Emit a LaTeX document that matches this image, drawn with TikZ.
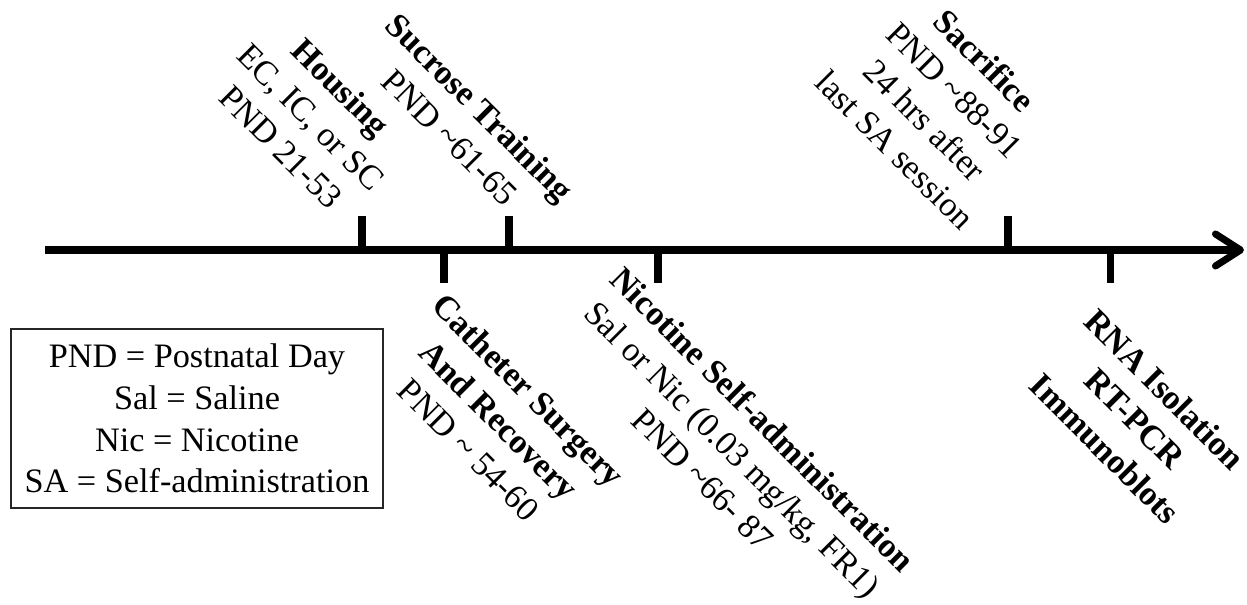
\documentclass[tikz,border=0pt]{standalone}
\usepackage{fontspec}
\setmainfont{Liberation Serif}
\usepackage{tikz}
\tikzset{>=latex}
\usetikzlibrary{arrows.meta,positioning}
\tikzset{
  eventtext/.style={rotate=-45, align=center, inner sep=0pt, font=\fontsize{19.5}{24}\selectfont},
  legendbox/.style={draw=black!85, line width=0.8pt, align=center, minimum width=7.44cm, minimum height=3.58cm, font=\fontsize{19.5}{23.8}\selectfont},
  timeline/.style={line width=4pt, -{Straight Barb[length=0.5cm, width=0.64cm, line cap=round, line join=round]}},
  tick/.style={line width=4pt}
}

\begin{document}
\begin{tikzpicture}
                    \useasboundingbox (0,0) rectangle (24.94,-12.1);
                    % time axis
                    \coordinate (tstart) at (0.9,-5);
                    \coordinate (tend) at (24.88,-5);
                    \draw[timeline] (tstart) -- (tend);
                    % ticks above and below the axis
                    \draw[tick] (7.24,-5) -- (7.24,-4.32);
                    \draw[tick] (10.18,-5) -- (10.18,-4.32);
                    \draw[tick] (20.16,-5) -- (20.16,-4.32);
                    \draw[tick] (8.88,-5) -- (8.88,-5.66);
                    \draw[tick] (13.16,-5) -- (13.16,-5.66);
                    \draw[tick] (22.2,-5) -- (22.2,-5.66);
                    % events
                    \node[eventtext] (housing) at (6.22,-2.34) {\textbf{Housing}\\EC, IC, or SC\\PND 21-53};
                    \node[eventtext] (sucrose) at (9.3,-2.44) {\textbf{Sucrose Training}\\PND \textasciitilde61-65};
                    \node[eventtext] (sacrifice) at (18.8,-2.1) {\textbf{Sacrifice}\\PND \textasciitilde88-91\\24 hrs after\\last SA session};
                    \node[eventtext] (catheter) at (9.98,-8.4) {\textbf{Catheter Surgery}\\\textbf{And Recovery}\\PND \textasciitilde{} 54-60};
                    \node[eventtext] (nicotine) at (14.66,-8.98) {\textbf{Nicotine Self-administration}\\Sal or Nic (0.03 mg/kg, FR1)\\PND \textasciitilde66- 87};
                    \node[eventtext] (rna) at (22.7,-8.38) {\textbf{RNA Isolation}\\\textbf{RT-PCR}\\\textbf{Immunoblots}};
                    % abbreviations
                    \node[legendbox] (legend) at (3.94,-8.37) {PND = Postnatal Day\\Sal = Saline\\Nic = Nicotine\\SA = Self-administration};
                \end{tikzpicture}
\end{document}
